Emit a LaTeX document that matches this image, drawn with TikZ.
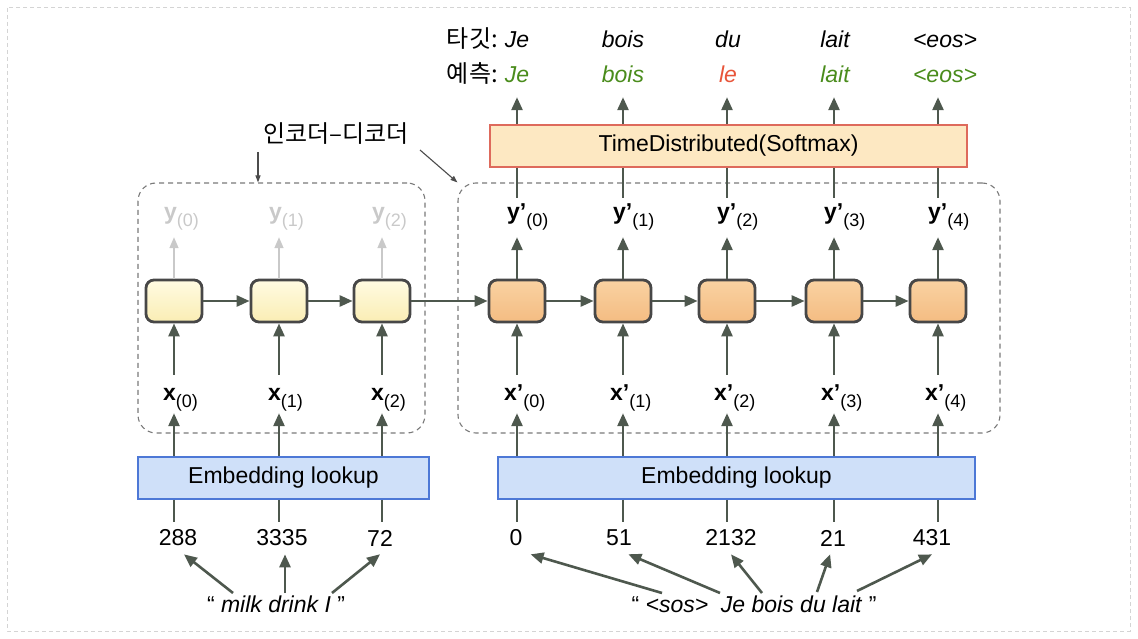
\documentclass[tikz,border=0pt]{standalone}
\usepackage{fontspec}
\setmainfont{Liberation Sans}
\newfontfamily\kr{Noto Sans CJK KR}
\usetikzlibrary{arrows.meta}
\definecolor{arrc}{HTML}{4E584E}
\definecolor{celld}{HTML}{474747}
\definecolor{encT}{HTML}{FFFBE2}
\definecolor{encB}{HTML}{FAEDB4}
\definecolor{decT}{HTML}{F9D2A2}
\definecolor{decB}{HTML}{F4BC82}
\definecolor{embf}{HTML}{CFE0F9}
\definecolor{embd}{HTML}{4D78D6}
\definecolor{smf}{HTML}{FDE8C2}
\definecolor{smd}{HTML}{DE6A5C}
\definecolor{grn}{HTML}{4A8C1C}
\definecolor{rd}{HTML}{E8553A}
\definecolor{dashc}{HTML}{7A7A7A}
\definecolor{ltg}{HTML}{C9C9C9}
\definecolor{framec}{HTML}{D4D4D4}
\newcommand\mysub[1]{\raisebox{-7pt}{\fontsize{18}{18}\selectfont #1}}
\begin{document}
\begin{tikzpicture}[x=1pt,y=-1pt,
  arr/.style={draw=arrc, line width=2.6pt, -{Triangle[length=13pt,width=11pt]}},
  plainline/.style={draw=arrc, line width=2.6pt},
  garr/.style={draw=ltg, line width=1.6pt, -{Triangle[length=11pt,width=9pt]}},
  thinarr/.style={draw=black!70, line width=1.1pt, -{Triangle[length=7pt,width=5pt]}},
  cellbase/.style={draw=celld, line width=2.8pt, rounded corners=8pt, minimum width=56pt, minimum height=42pt},
  enc/.style={cellbase, top color=encT, bottom color=encB},
  dec/.style={cellbase, top color=decT, bottom color=decB},
  txt/.style={font=\fontsize{23}{27}\selectfont},
  emb/.style={txt, draw=embd, fill=embf, line width=1.6pt, minimum height=42pt},
  smbox/.style={txt, draw=smd, fill=smf, line width=1.6pt, minimum height=42pt, minimum width=477pt},
  xl/.style={txt, inner sep=0pt, anchor=base west, text height=25pt, text depth=13pt},
  yl/.style={txt, inner sep=0pt, anchor=base west, text height=22pt, text depth=17pt},
  num/.style={txt, inner sep=8pt},
  toplab/.style={txt, inner sep=0pt, anchor=base, font=\fontsize{23}{27}\selectfont\itshape},
  predlab/.style={toplab, text depth=14pt},
  krlab/.style={anchor=base east, inner sep=0pt, font=\kr\fontsize{24}{28}\selectfont},
  dbox/.style={draw=dashc, line width=1.1pt, dash pattern=on 5pt off 4pt, rounded corners=18pt, minimum height=250pt},
  frame/.style={draw=framec, line width=1pt, dash pattern=on 4pt off 3pt}
]
\useasboundingbox (0,0) rectangle (1138,639);
\draw[frame] (7,8) rectangle (1130,631);

% dashed groups
\node[dbox, minimum width=287pt] (encbox) at (281.5,308) {};
\node[dbox, minimum width=542pt] (decbox) at (729,308) {};

% encoder-decoder label
\node[font=\kr\fontsize{24}{28}\selectfont, inner sep=0pt] (ecd) at (336,134) {인코더–디코더};
\coordinate (t1) at (258,152);
\coordinate (t2) at (420,150);
\draw[thinarr] (t1) -- (t1 |- encbox.north);
\draw[thinarr] (t2) -- (decbox.north west);

% softmax and embedding boxes
\node[smbox] (sm) at (728.5,146) {TimeDistributed(Softmax)};
\node[emb, minimum width=291pt] (embE) at (283.5,478) {Embedding lookup};
\node[emb, minimum width=477pt] (embD) at (736.5,478) {Embedding lookup};

% encoder column
\foreach \i/\x/\n/\nx in {0/174/288/178, 1/279/3335/282, 2/382/72/380} {
  \node[enc] (e\i) at (\x,301) {};
  \node[xl] (xe\i) at (\x-11,400) {\textbf{x}\mysub{(\i)}};
  \node[yl, text=ltg] (ye\i) at (\x-10,220) {\textbf{y}\mysub{(\i)}};
  \node[num] (nE\i) at (\nx,538) {\n};
  \draw[arr] (embE.north -| e\i) -- (xe\i.south -| e\i);
  \draw[arr] (xe\i.north -| e\i) -- (e\i.south);
  \draw[garr] (e\i.north) -- (ye\i.south -| e\i);
  \draw[plainline] (embE.south -| e\i) -- (nE\i.north -| e\i);
}

% decoder column
\foreach \i/\x/\n/\nx in {0/517/0/516, 1/623/51/619, 2/727/2132/731, 3/834/21/833, 4/938/431/932} {
  \node[dec] (d\i) at (\x,301) {};
  \node[xl] (xd\i) at (\x-13,400) {\textbf{x’}\mysub{(\i)}};
  \node[yl] (yd\i) at (\x-10,220) {\textbf{y’}\mysub{(\i)}};
  \node[num] (nD\i) at (\nx,538) {\n};
  \draw[arr] (embD.north -| d\i) -- (xd\i.south -| d\i);
  \draw[arr] (xd\i.north -| d\i) -- (d\i.south);
  \draw[arr] (d\i.north) -- (yd\i.south -| d\i);
  \draw[plainline] (yd\i.north -| d\i) -- (sm.south -| d\i);
  \draw[plainline] (embD.south -| d\i) -- (nD\i.north -| d\i);
}

% recurrent arrows
\draw[arr] (e0.east) -- (e1.west);
\draw[arr] (e1.east) -- (e2.west);
\draw[arr] (e2.east) -- (d0.west);
\draw[arr] (d0.east) -- (d1.west);
\draw[arr] (d1.east) -- (d2.west);
\draw[arr] (d2.east) -- (d3.west);
\draw[arr] (d3.east) -- (d4.west);

% top labels
\node[krlab] (tlab) at (498,48) {타깃:};
\node[krlab] (plab) at (498,83) {예측:};
\node[toplab] (t0) at (517,48) {Je};
\node[toplab] (t1l) at (623,48) {bois};
\node[toplab] (t2l) at (728,48) {du};
\node[toplab] (t3l) at (835,48) {lait};
\node[toplab] (t4l) at (945,48) {<eos>};
\node[predlab, text=grn] (p0) at (517,83) {Je};
\node[predlab, text=grn] (p1) at (623,83) {bois};
\node[predlab, text=rd] (p2) at (728,83) {le};
\node[predlab, text=grn] (p3) at (835,83) {lait};
\node[predlab, text=grn] (p4) at (945,83) {<eos>};
\foreach \i in {0,...,4} {
  \draw[arr] (sm.north -| d\i) -- (p\i.south -| d\i);
}

% input sentences
\node[txt, inner sep=0pt] (qE) at (276,604) {“ \textit{milk drink I} ”};
\node[txt, inner sep=0pt] (qD) at (754,604) {“ \textit{<sos>\ \ Je bois du lait} ”};
\coordinate (aE0) at (233,593);
\coordinate (aE1) at (285,593);
\coordinate (aE2) at (332,593);
\coordinate (aD0) at (662,593);
\coordinate (aD1) at (720,593);
\coordinate (aD2) at (762,593);
\coordinate (aD3) at (817,592);
\coordinate (aD4) at (857,591);
\draw[arr] (aE0) -- (nE0.-70);
\draw[arr] (aE1) -- (aE1 |- nE1.south);
\draw[arr] (aE2) -- (nE2.south);
\draw[arr] (aD0) -- (nD0.south east);
\draw[arr] (aD1) -- (nD1.-60);
\draw[arr] (aD2) -- (nD2.south);
\draw[arr] (aD3) -- (nD3.-100);
\draw[arr] (aD4) -- (nD4.south);
\end{tikzpicture}
\end{document}
